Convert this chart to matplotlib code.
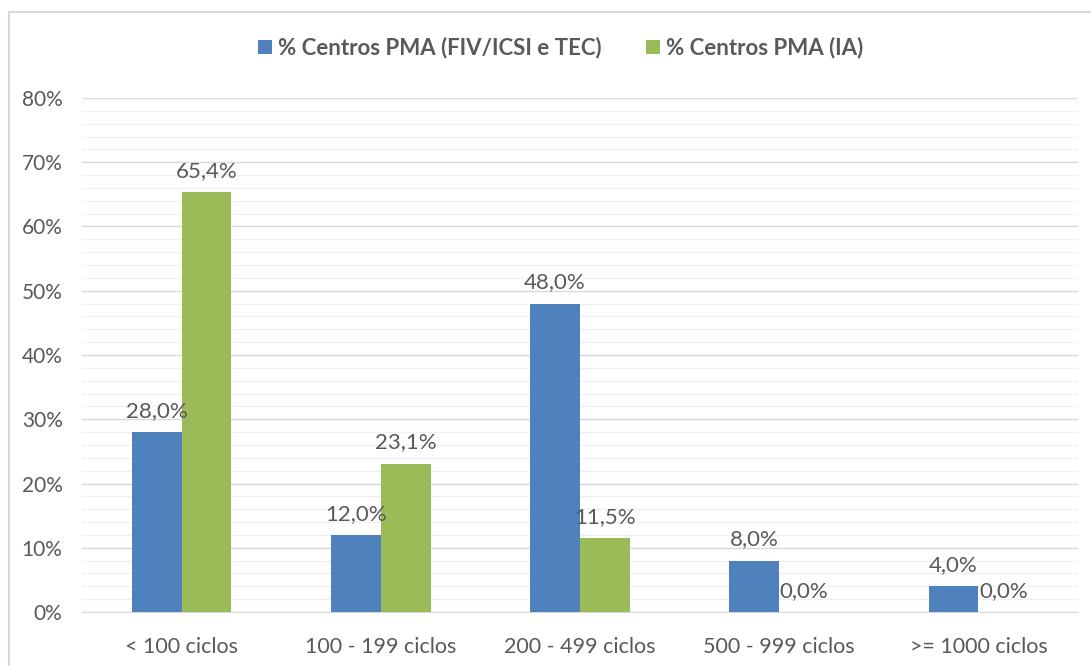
import matplotlib
matplotlib.use("Agg")
import matplotlib.pyplot as plt
from matplotlib.patches import Rectangle
import numpy as np

categories = ["< 100 ciclos", "100 - 199 ciclos", "200 - 499 ciclos", "500 - 999 ciclos", ">= 1000 ciclos"]
fiv_icsi = [28.0, 12.0, 48.0, 8.0, 4.0]
ia = [65.4, 23.1, 11.5, 0.0, 0.0]
series_names = ["% Centros PMA (FIV/ICSI e TEC)", "% Centros PMA (IA)"]

BLUE = "#4F81BD"
GREEN = "#9BBB59"
TXT = "#595959"

plt.rcParams['font.family'] = ['Lato', 'DejaVu Sans']

W, H = 1091, 666
fig = plt.figure(figsize=(W / 100, H / 100), dpi=100)
ax = fig.add_axes([82 / W, 1 - 612 / H, (1078 - 82) / W, (612 - 98) / H])

# outer chart border
fig.patches.append(Rectangle((9 / W, -0.1), 1.2, 1 - 12 / H + 0.1, transform=fig.transFigure,
                             fill=False, edgecolor="#D9D9D9", linewidth=1.5))

x = np.arange(len(categories))
bw = 0.25
b1 = ax.bar(x - bw / 2, fiv_icsi, bw, color=BLUE, label=series_names[0], zorder=3)
b2 = ax.bar(x + bw / 2, ia, bw, color=GREEN, label=series_names[1], zorder=3)

def fmt(v):
    return ("%.1f%%" % v).replace(".", ",")

for bars, vals in ((b1, fiv_icsi), (b2, ia)):
    for r, v in zip(bars, vals):
        ax.annotate(fmt(v), (r.get_x() + r.get_width() / 2, v), xytext=(0, 8),
                    textcoords="offset points", ha="center", va="bottom",
                    fontsize=16, color=TXT, zorder=4)

ax.set_xlim(-0.5, len(categories) - 0.5)
ax.set_ylim(0, 80)
ax.set_yticks(np.arange(0, 81, 10))
ax.set_yticklabels(["%d%%" % t for t in range(0, 81, 10)])
ax.set_yticks(np.arange(0, 81, 2), minor=True)
ax.set_xticks(x)
ax.set_xticklabels(categories)
ax.tick_params(axis="y", length=0, colors=TXT, labelsize=15, pad=14)
ax.tick_params(axis="x", length=0, colors=TXT, labelsize=15.5, pad=18)
ax.tick_params(axis="y", which="minor", length=0)
ax.grid(axis="y", which="major", color="#D9D9D9", linewidth=1, zorder=0)
ax.grid(axis="y", which="minor", color="#F0F0F0", linewidth=1, zorder=0)
for s in ("top", "right", "left"):
    ax.spines[s].set_visible(False)
ax.spines["bottom"].set_color("#D9D9D9")

leg = fig.legend(handles=[b1, b2], loc="center", bbox_to_anchor=(561 / W, 1 - 48 / H), ncol=2,
                 frameon=False, fontsize=16, handlelength=0.6, handleheight=0.6,
                 handletextpad=0.3, columnspacing=2.0)
for t in leg.get_texts():
    t.set_color(TXT)
    t.set_fontweight("bold")

fig.savefig("out.png", dpi=100)
